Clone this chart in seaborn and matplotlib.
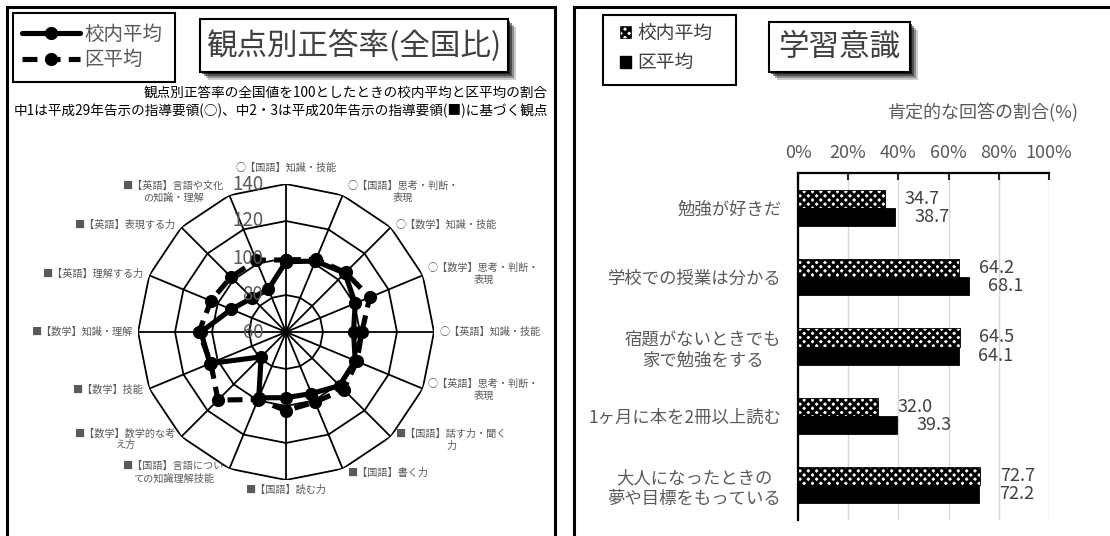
import numpy as np
import pandas as pd
import matplotlib
matplotlib.use('Agg')
import matplotlib.pyplot as plt
import seaborn as sns
from matplotlib.lines import Line2D
from matplotlib.patches import Rectangle, Patch
from matplotlib.transforms import offset_copy

sns.set_style('white')
plt.rcParams['font.family'] = ['Noto Sans CJK JP', 'DejaVu Sans']
plt.rcParams['hatch.linewidth'] = 2.2

# ---------------- data ----------------
series_names = ['校内平均', '区平均']

radar_labels = [
    '○【国語】知識・技能',
    '○【国語】思考・判断・\n表現',
    '○【数学】知識・技能',
    '○【数学】思考・判断・\n表現',
    '○【英語】知識・技能',
    '○【英語】思考・判断・\n表現',
    '■【国語】話す力・聞く\n力',
    '■【国語】書く力',
    '■【国語】読む力',
    '■【国語】言語につい\nての知識理解技能',
    '■【数学】数学的な考\nえ方',
    '■【数学】技能',
    '■【数学】知識・理解',
    '■【英語】理解する力',
    '■【英語】表現する力',
    '■【英語】言語や文化\nの知識・理解',
]
school_radar = [98, 101.5, 105, 100.5, 96.5, 100.5, 101, 96, 95.5, 98.5, 79, 104.5, 106, 92, 86, 85]
district_radar = [99, 102.5, 105.5, 109, 101, 101.5, 104, 101, 102.5, 99.5, 112, 104, 107, 104, 102, 102]
radar_ticks = [60, 80, 100, 120, 140]

survey_items = [
    '勉強が好きだ',
    '学校での授業は分かる',
    '宿題がないときでも\n家で勉強をする',
    '1ヶ月に本を2冊以上読む',
    '大人になったときの\n夢や目標をもっている',
]
school_pct = [34.7, 64.2, 64.5, 32.0, 72.7]
district_pct = [38.7, 68.1, 64.1, 39.3, 72.2]
pct_ticks = [0, 20, 40, 60, 80, 100]

# ---------------- figure ----------------
W, H = 1110, 536
fig = plt.figure(figsize=(W / 100, H / 100), dpi=100)
DASH = (0, (2.9, 1.6))


def fx(px):
    return px / W


def fy(py):
    return 1 - py / H


def box(x0, y0, x1, y1, lw=1.5, shadow=False):
    if shadow:
        for off, a in [(8, 0.2), (6, 0.3), (4, 0.45), (2, 0.6)]:
            fig.add_artist(Rectangle((fx(x0 + off), fy(y1 + off)), (x1 - x0) / W, (y1 - y0) / H,
                                     transform=fig.transFigure, facecolor='black', edgecolor='none',
                                     alpha=a, zorder=5))
    fig.add_artist(Rectangle((fx(x0), fy(y1)), (x1 - x0) / W, (y1 - y0) / H,
                             transform=fig.transFigure, facecolor='white' if shadow else 'none',
                             edgecolor='black', lw=lw, zorder=6))


# panel frames
box(7, 7, 555, 545, lw=2.2)
box(574, 7, 1120, 545, lw=2.2)

# ---------------- radar ----------------
ax = fig.add_axes([fx(138), fy(480), 296 / W, 296 / H], projection='polar')
ax.set_theta_zero_location('N')
ax.set_theta_direction(-1)
ax.set_ylim(radar_ticks[0], radar_ticks[-1])
ax.set_axis_off()

n = len(radar_labels)
angles = np.linspace(0, 2 * np.pi, n, endpoint=False)
closed_angles = np.append(angles, 2 * np.pi)

for r in radar_ticks[1:]:
    ax.plot(closed_angles, [r] * (n + 1), color='black', lw=1.3, zorder=1)
for a in angles:
    ax.plot([a, a], [radar_ticks[0], radar_ticks[-1]], color='black', lw=1.3, zorder=1)

df_s = pd.DataFrame({'theta': closed_angles, 'value': school_radar + school_radar[:1]})
df_d = pd.DataFrame({'theta': closed_angles, 'value': district_radar + district_radar[:1]})
sns.lineplot(data=df_d, x='theta', y='value', sort=False, estimator=None, ax=ax, color='black',
             lw=3.7, linestyle=DASH, marker='o', markersize=9.5, markeredgewidth=0, zorder=3)
sns.lineplot(data=df_s, x='theta', y='value', sort=False, estimator=None, ax=ax, color='black',
             lw=3.7, marker='o', markersize=9.5, markeredgewidth=0, zorder=4)
ax.set_axis_off()

for r in radar_ticks:
    ax.text(0, r, str(r), transform=offset_copy(ax.transData, fig=fig, x=-23, y=0, units='dots'),
            ha='right', va='center', fontsize=13.5, color='#595959', zorder=10)

for a, lab in zip(angles, radar_labels):
    s, c = np.sin(a), np.cos(a)
    if abs(s) < 0.01:
        ha = 'center'
        va = 'bottom' if c > 0 else 'top'
        off = (0, 11 if c > 0 else -5)
    else:
        ha = 'left' if s > 0 else 'right'
        va = 'center'
        off = (5 * np.sign(s), 4 * c)
    ax.annotate(lab, xy=(a, radar_ticks[-1]), xytext=off, textcoords='offset pixels',
                ha=ha, va=va, fontsize=7.3, color='#595959', multialignment='center',
                annotation_clip=False)

# left legend
box(13, 13, 175, 82)
h1 = Line2D([], [], color='black', lw=3.7, marker='o', markersize=9.5, markeredgewidth=0)
h2 = Line2D([], [], color='black', lw=3.7, linestyle=DASH, marker='o', markersize=9.5,
            markeredgewidth=0)
fig.legend([h1, h2], series_names, loc='center left', bbox_to_anchor=(fx(22), fy(47)),
           frameon=False, fontsize=14, handlelength=3.0, handletextpad=0.2, labelspacing=0.25,
           borderpad=0, borderaxespad=0, labelcolor='#595959')

# left title
box(200, 19, 508, 72, shadow=True)
fig.text(fx(354), fy(45.5), '観点別正答率(全国比)', ha='center', va='center', fontsize=22,
         color='#404040', zorder=7)

fig.text(fx(548), fy(93), '観点別正答率の全国値を100としたときの校内平均と区平均の割合',
         ha='right', va='center', fontsize=9.8, color='black')
fig.text(fx(548), fy(111), '中1は平成29年告示の指導要領(○)、中2・3は平成20年告示の指導要領(■)に基づく観点',
         ha='right', va='center', fontsize=9.8, color='black')

# ---------------- bar chart ----------------
ax2 = fig.add_axes([fx(798), fy(520), (1049 - 798) / W, (520 - 173) / H])
df_bar = pd.DataFrame({
    'item': survey_items * 2,
    'series': [series_names[0]] * len(survey_items) + [series_names[1]] * len(survey_items),
    'pct': school_pct + district_pct,
})
sns.barplot(data=df_bar, x='pct', y='item', hue='series', orient='h', palette=['white', 'black'],
            width=0.52, saturation=1, ax=ax2, legend=False, linewidth=0.6, edgecolor='black')
for p in ax2.containers[0]:
    p.set_hatch('xxxx')
    p.set_edgecolor('black')
for cont in ax2.containers:
    ax2.bar_label(cont, fmt='%.1f', padding=14, fontsize=13, color='#404040')

ax2.set_xlim(0, 100)
ax2.set_xticks(pct_ticks)
ax2.set_xticklabels([f'{t}%' for t in pct_ticks])
ax2.xaxis.tick_top()
ax2.set_xlabel('')
ax2.set_ylabel('')
ax2.grid(axis='x', color='#d9d9d9', lw=1)
ax2.set_axisbelow(True)
for side in ['right', 'bottom']:
    ax2.spines[side].set_visible(False)
for side in ['top', 'left']:
    ax2.spines[side].set_color('black')
    ax2.spines[side].set_linewidth(1.6)
ax2.tick_params(axis='x', direction='in', length=5, width=1.5, pad=8, labelsize=13,
                labelcolor='#595959', top=True, bottom=False)
ax2.tick_params(axis='y', length=0, pad=12, labelsize=12.5, labelcolor='#595959')
for lbl in ax2.get_yticklabels():
    lbl.set_multialignment('center')

# right legend
box(603, 15, 736, 85)
p1 = Patch(facecolor='white', edgecolor='black', hatch='xxxx', lw=0.5)
p2 = Patch(facecolor='black', edgecolor='black')
fig.legend([p1, p2], series_names, loc='center left', bbox_to_anchor=(fx(620), fy(48)),
           frameon=False, fontsize=13.5, handlelength=0.6, handleheight=0.6, handletextpad=0.3,
           labelspacing=0.45, borderpad=0, borderaxespad=0, labelcolor='#404040')

# right title
box(769, 22, 910, 72, shadow=True)
fig.text(fx(839.5), fy(47), '学習意識', ha='center', va='center', fontsize=22, color='#404040', zorder=7)

fig.text(fx(983), fy(113), '肯定的な回答の割合(%)', ha='center', va='center', fontsize=13,
         color='#595959')

fig.savefig('out.png', dpi=100)
